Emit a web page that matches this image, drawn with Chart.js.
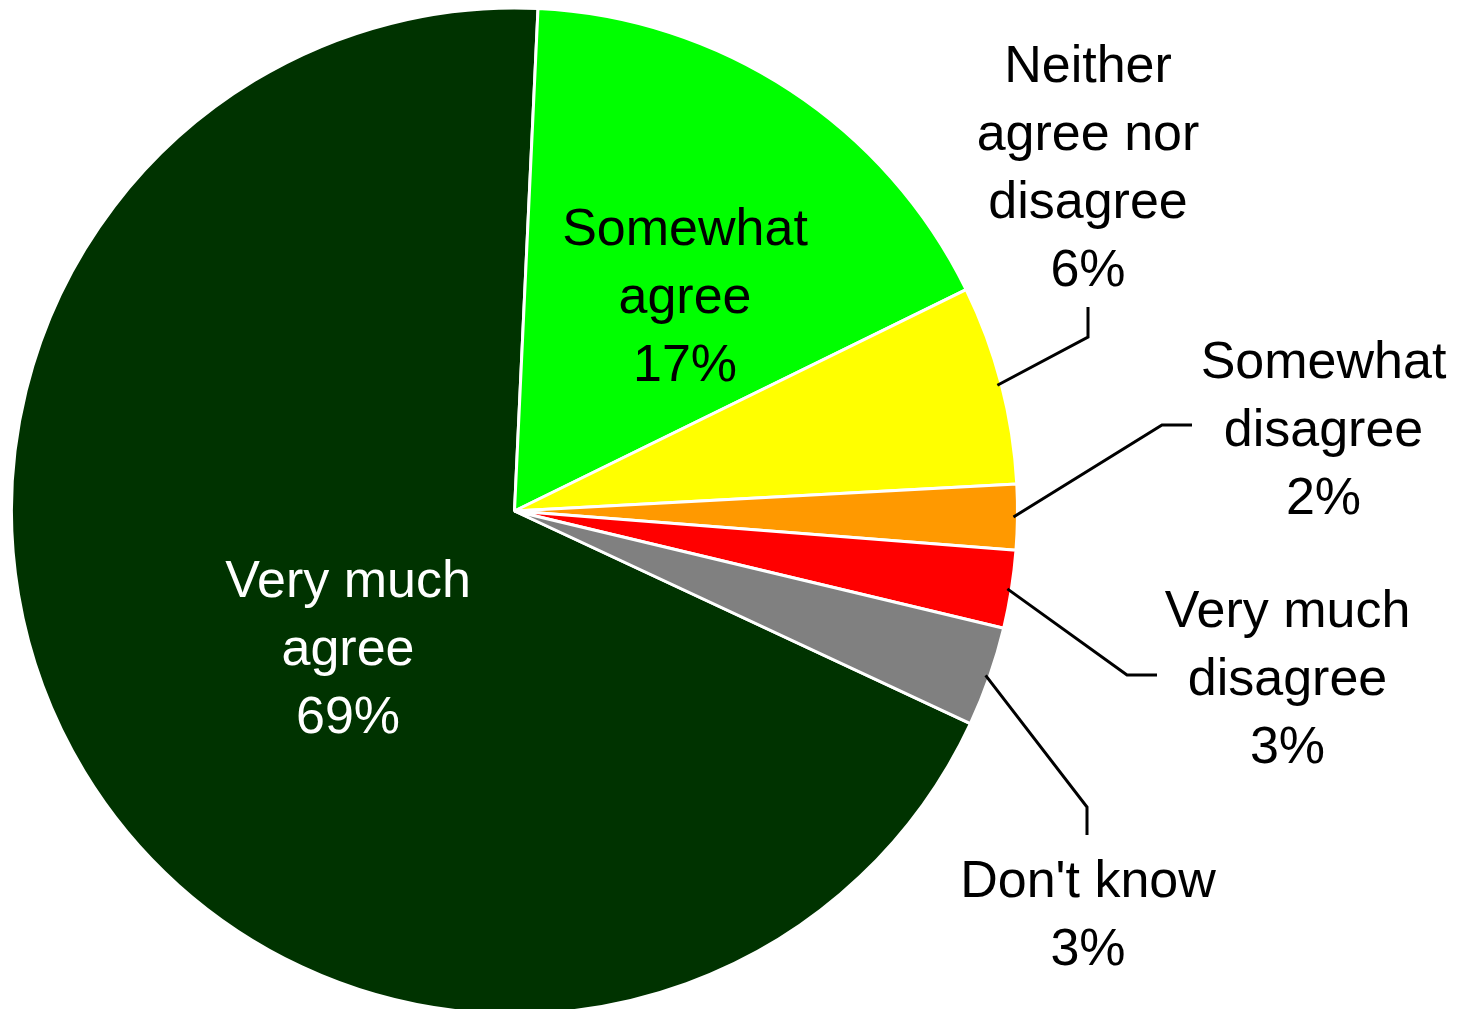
<!DOCTYPE html>
<html>
<head>
<meta charset="utf-8">
<script src="https://cdn.jsdelivr.net/npm/chart.js@4.4.1/dist/chart.umd.min.js"></script>
<style>
  html, body { margin: 0; padding: 0; background: #ffffff; }
  #wrap { width: 1458px; height: 1009px; position: relative; }
</style>
</head>
<body>
<div id="wrap"><canvas id="pieChart"></canvas></div>
<script>
// --- data ---
const categories = [
  ["Very much", "agree"],
  ["Somewhat", "agree"],
  ["Neither", "agree nor", "disagree"],
  ["Somewhat", "disagree"],
  ["Very much", "disagree"],
  ["Don't know"],
];
const shares = [68.8, 17.0, 6.4, 2.1, 2.5, 3.2];
const pctLabels = ["69%", "17%", "6%", "2%", "3%", "3%"];
const sliceColors = ["#003300", "#00ff00", "#ffff00", "#ff9900", "#ff0000", "#808080"];
const textColors = ["#ffffff", "#000000", "#000000", "#000000", "#000000", "#000000"];

// label placement, px relative to pie centre (first baseline); leader = elbow + end
const labelLayout = [
  { dx: -166.5, dy: 86, leader: null },
  { dx: 170.5, dy: -266, leader: null },
  { dx: 573.5, dy: -429, leader: [[573.5, -174], [573.5, -204]] },
  { dx: 809, dy: -133, leader: [[647.5, -86], [677.5, -86]] },
  { dx: 773, dy: 116, leader: [[612.5, 164], [642.5, 164]] },
  { dx: 573.5, dy: 386, leader: [[572.5, 296], [572.5, 324]] },
];

const FONT = '52px "Liberation Sans", Arial, Helvetica, sans-serif';
const LINE_H = 68;

const sliceLabels = {
  id: "sliceLabels",
  afterDatasetsDraw(chart) {
    const ctx = chart.ctx;
    const arcs = chart.getDatasetMeta(0).data;
    ctx.save();
    arcs.forEach((arc, i) => {
      const lay = labelLayout[i];
      const cx = arc.x, cy = arc.y;

      // leader line from the slice edge
      if (lay.leader) {
        const mid = (arc.startAngle + arc.endAngle) / 2;
        const r = arc.outerRadius - 4;
        ctx.beginPath();
        ctx.moveTo(cx + Math.cos(mid) * r, cy + Math.sin(mid) * r);
        lay.leader.forEach((p) => ctx.lineTo(cx + p[0], cy + p[1]));
        ctx.strokeStyle = "#000000";
        ctx.lineWidth = 3;
        ctx.lineJoin = "miter";
        ctx.stroke();
      }

      // text block
      const lines = categories[i].concat([pctLabels[i]]);
      ctx.font = FONT;
      ctx.fillStyle = textColors[i];
      ctx.textAlign = "center";
      ctx.textBaseline = "alphabetic";
      lines.forEach((ln, k) => {
        ctx.fillText(ln, cx + lay.dx, cy + lay.dy + k * LINE_H);
      });
    });
    ctx.restore();
  },
};

new Chart(document.getElementById("pieChart"), {
  type: "pie",
  data: {
    labels: categories,
    datasets: [
      {
        data: shares,
        backgroundColor: sliceColors,
        borderColor: "#ffffff",
        borderWidth: 3,
      },
    ],
  },
  options: {
    responsive: true,
    maintainAspectRatio: false,
    animation: false,
    events: [],
    rotation: 115,
    radius: 503,
    layout: { padding: { left: 0, right: 429, top: 13, bottom: 0 } },
    plugins: {
      legend: { display: false },
      tooltip: { enabled: false },
    },
  },
  plugins: [sliceLabels],
});
</script>
</body>
</html>
